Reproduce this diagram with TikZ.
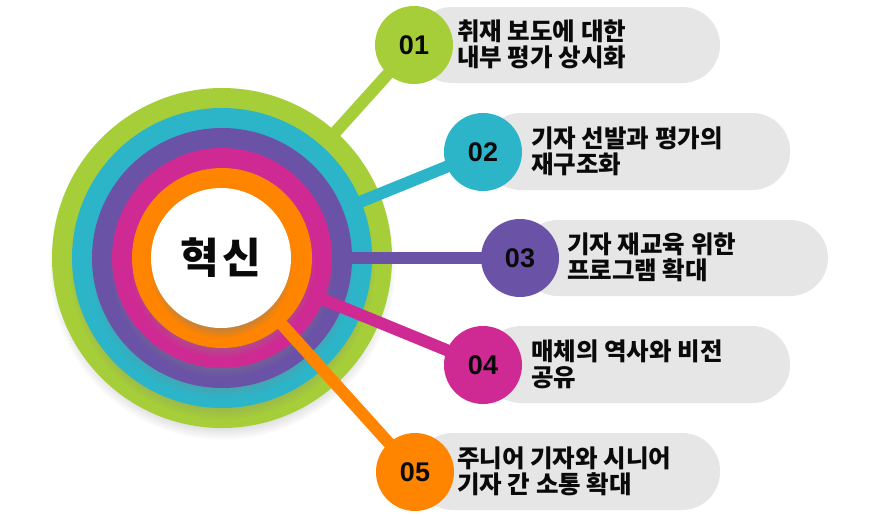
\documentclass[tikz,border=0pt]{standalone}
\usepackage{fontspec}
\setmainfont{Liberation Sans}
\newfontfamily\kr{Noto Sans CJK KR}
\usetikzlibrary{shadows}
\definecolor{cgreen}{HTML}{A6CE39}
\definecolor{ccyan}{HTML}{2CB5C9}
\definecolor{cpurple}{HTML}{6A52A6}
\definecolor{cmagenta}{HTML}{CF2A93}
\definecolor{corange}{HTML}{FF8400}
\definecolor{pillgray}{HTML}{E6E6E6}
\definecolor{ink}{HTML}{0A0A0A}
\tikzset{
  ring/.style={circle, draw=none, inner sep=0pt,
    circular drop shadow={shadow xshift=0pt, shadow yshift=-8pt, shadow scale=1.02, opacity=0.5}},
  conn/.style={line width=12pt},
  badge/.style={circle, minimum size=78pt, inner sep=0pt, text=ink,
    font=\fontsize{27}{27}\selectfont\bfseries},
  pill/.style={fill=pillgray, rounded corners=38pt},
  label/.style={anchor=west, align=left, inner sep=0pt, text=ink,
    font=\kr\bfseries\fontsize{24.5}{26}\selectfont},
}
\begin{document}
\begin{tikzpicture}[x=1pt,y=-1pt]
\useasboundingbox (0,0) rectangle (880,514);
\fill[white] (0,0) rectangle (880,514);
% pills
\fill[pill] (414,7) rectangle (720,83);
\fill[pill] (483,113) rectangle (790,190);
\fill[pill] (520,220) rectangle (828,296);
\fill[pill] (483,326) rectangle (790,403);
\fill[pill] (415,433) rectangle (720,510);
% badge anchors
\coordinate (p1) at (414,45);
\coordinate (p2) at (483,152);
\coordinate (p3) at (520,258);
\coordinate (p4) at (483,365);
\coordinate (p5) at (415,472);
% rings and connectors
\node[ring, minimum size=340pt, fill=cgreen] (r1) at (222,258) {};
\draw[conn, cgreen] (r1.center) -- (p1);
\node[ring, minimum size=300pt, fill=ccyan] (r2) at (222,258) {};
\draw[conn, ccyan] (r2.center) -- (p2);
\node[ring, minimum size=260pt, fill=cpurple] (r3) at (222,258) {};
\draw[conn, cpurple] (r3.center) -- (p3);
\node[ring, minimum size=220pt, fill=cmagenta] (r4) at (222,258) {};
\draw[conn, cmagenta] (r4.center) -- (p4);
\node[ring, minimum size=180pt, fill=corange] (r5) at (222,258) {};
\draw[conn, corange] (r5.center) -- (p5);
\node[ring, minimum size=140pt, fill=white, text=ink,
  font=\kr\bfseries\fontsize{42}{42}\selectfont] (core) at (221,258) {혁\kern3pt 신};
% badges
\node[badge, fill=cgreen] (b1) at (p1) {01};
\node[badge, fill=ccyan] (b2) at (p2) {02};
\node[badge, fill=cpurple] (b3) at (p3) {03};
\node[badge, fill=cmagenta] (b4) at (p4) {04};
\node[badge, fill=corange] (b5) at (p5) {05};
% labels
\node[label] (t1) at (457,44) {취재 보도에 대한\\내부 평가 상시화};
\node[label] (t2) at (531,151) {기자 선발과 평가의\\재구조화};
\node[label] (t3) at (567,257) {기자 재교육 위한\\프로그램 확대};
\node[label] (t4) at (531,364) {매체의 역사와 비전\\공유};
\node[label] (t5) at (457,471) {주니어 기자와 시니어\\기자 간 소통 확대};
\end{tikzpicture}
\end{document}
